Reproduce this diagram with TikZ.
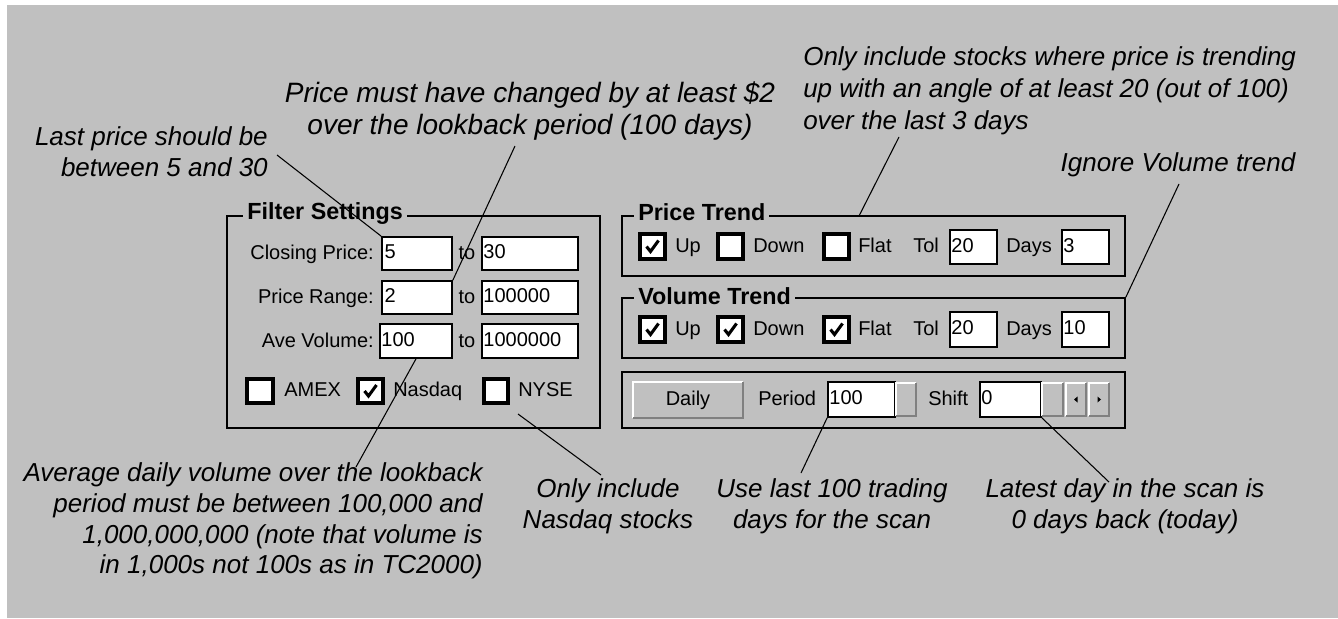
\documentclass[tikz,border=0pt]{standalone}
\usepackage{fontspec}
\setmainfont{Liberation Sans}
\usetikzlibrary{fit,calc}
\definecolor{bg}{HTML}{C0C0C0}
\definecolor{dkg}{HTML}{808080}
\newcommand\chkmark[1]{\draw[chk] ($(#1.center)+(-6,0)$) -- ($(#1.center)+(-2,5)$) -- ($(#1.center)+(6,-6)$);}
\newcommand\bevel[3]{%
  \node[fill=bg, inner sep=0pt, fit={#2 #3}] (#1) {};
  \draw[white, line width=1.3pt] (#1.south west) -- (#1.north west) -- (#1.north east);
  \draw[dkg, line width=1.3pt] (#1.north east) -- (#1.south east) -- (#1.south west);}
\begin{document}
\begin{tikzpicture}[x=0.75pt,y=-0.75pt,
  ann/.style={font=\fontsize{19.5}{23}\selectfont\itshape, inner sep=0pt},
  ui/.style={font=\fontsize{15}{18}\selectfont, inner sep=0pt, text height=11pt, text depth=3pt},
  ttl/.style={font=\fontsize{17.5}{20}\selectfont\bfseries, fill=bg, inner xsep=3pt, inner ysep=0pt},
  grp/.style={draw=black, line width=1.3pt, inner sep=0pt},
  tbox/.style={draw=black, fill=white, line width=1.3pt, inner sep=0pt},
  cbox/.style={draw=black, fill=white, line width=2.6pt, inner sep=0pt},
  leader/.style={draw=black, line width=0.8pt},
  chk/.style={line width=2.3pt, line join=miter}]
\fill[white] (0,0) rectangle (1338,618);
\fill[bg] (7,5) rectangle (1338,618);
\useasboundingbox (0,0) rectangle (1338,618);

% Filter settings
\node[grp, fit={(227,216) (600,428)}] (fs) {};
\node[ttl, anchor=west] (fst) at (243,214) {Filter Settings};
\node[ui, anchor=east] (lcp) at (374,254) {Closing Price:};
\node[tbox, fit={(382,237) (452,270)}] (cp1) {};
\node[ui, anchor=west] at ([xshift=2.5pt]cp1.west) {5};
\node[ui] (to1) at (467,254) {to};
\node[tbox, fit={(482,237) (578,270)}] (cp2) {};
\node[ui, anchor=west] at ([xshift=1.5pt]cp2.west) {30};

\node[ui, anchor=east] (lpr) at (374,298) {Price Range:};
\node[tbox, fit={(382,281) (452,314)}] (pr1) {};
\node[ui, anchor=west] at ([xshift=2.5pt]pr1.west) {2};
\node[ui] (to2) at (467,298) {to};
\node[tbox, fit={(482,281) (578,314)}] (pr2) {};
\node[ui, anchor=west] at ([xshift=1.5pt]pr2.west) {100000};

\node[ui, anchor=east] (lav) at (374,342) {Ave Volume:};
\node[tbox, fit={(380,324) (452,358)}] (av1) {};
\node[ui, anchor=west] at ([xshift=1.5pt]av1.west) {100};
\node[ui] (to3) at (467,342) {to};
\node[tbox, fit={(482,324) (578,358)}] (av2) {};
\node[ui, anchor=west] at ([xshift=1.5pt]av2.west) {1000000};

\node[cbox, fit={(247,379) (273,403)}] (amex) {};
\node[ui, anchor=west] (lamex) at (284,391) {AMEX};
\node[cbox, fit={(358,379) (383,403)}] (nasdaq) {};
\chkmark{nasdaq}
\node[ui, anchor=west] (lnasdaq) at (393,391) {Nasdaq};
\node[cbox, fit={(484,379) (508,403)}] (nyse) {};
\node[ui, anchor=west] (lnyse) at (518,391) {NYSE};

% Price trend
\node[grp, fit={(622,216) (1125,276)}] (pt) {};
\node[ttl, anchor=west] at (634,212) {Price Trend};
\node[cbox, fit={(640,234) (665,259)}] (ptup) {}; \chkmark{ptup}
\node[ui, anchor=west] at (675,247) {Up};
\node[cbox, fit={(718,234) (743,259)}] (ptdown) {};
\node[ui, anchor=west] at (753,247) {Down};
\node[cbox, fit={(824,234) (849,259)}] (ptflat) {};
\node[ui, anchor=west] at (858,247) {Flat};
\node[ui, anchor=west] at (913,247) {Tol};
\node[tbox, fit={(950,230) (997,264)}] (pttol) {};
\node[ui, anchor=west] at ([xshift=1.5pt]pttol.west) {20};
\node[ui, anchor=west] at (1006,247) {Days};
\node[tbox, fit={(1062,230) (1109,264)}] (ptdays) {};
\node[ui, anchor=west] at ([xshift=1.5pt]ptdays.west) {3};

% Volume trend
\node[grp, fit={(622,298) (1125,358)}] (vt) {};
\node[ttl, anchor=west] at (634,296) {Volume Trend};
\node[cbox, fit={(640,317) (665,342)}] (vtup) {}; \chkmark{vtup}
\node[ui, anchor=west] at (675,330) {Up};
\node[cbox, fit={(718,317) (743,342)}] (vtdown) {}; \chkmark{vtdown}
\node[ui, anchor=west] at (753,330) {Down};
\node[cbox, fit={(824,317) (849,342)}] (vtflat) {}; \chkmark{vtflat}
\node[ui, anchor=west] at (858,330) {Flat};
\node[ui, anchor=west] at (913,330) {Tol};
\node[tbox, fit={(950,312) (997,347)}] (vttol) {};
\node[ui, anchor=west] at ([xshift=1.5pt]vttol.west) {20};
\node[ui, anchor=west] at (1006,330) {Days};
\node[tbox, fit={(1062,312) (1109,347)}] (vtdays) {};
\node[ui, anchor=west] at ([xshift=1.5pt]vtdays.west) {10};

% Period box
\node[grp, fit={(622,372) (1125,428)}] (pb) {};
\bevel{daily}{(633,382)}{(743,418)}
\node[ui] at (daily.center) {Daily};
\node[ui, anchor=west] at (758,400) {Period};
\node[tbox, fit={(828,382) (895,417)}] (per) {};
\node[ui, anchor=west] at ([xshift=1.5pt]per.west) {100};
\bevel{perspin}{(896,383)}{(916,416)}
\node[ui, anchor=west] at (928,400) {Shift};
\node[tbox, fit={(980,382) (1041,417)}] (shift) {};
\node[ui, anchor=west] at ([xshift=1.5pt]shift.west) {0};
\bevel{sp1}{(1042,383)}{(1063,416)}
\bevel{sp2}{(1066,383)}{(1086,416)}
\bevel{sp3}{(1089,383)}{(1109,416)}
\fill ($(sp2.center)+(-2,0)$) -- ($(sp2.center)+(1.5,-3)$) -- ($(sp2.center)+(1.5,3)$) -- cycle;
\fill ($(sp3.center)+(2,0)$) -- ($(sp3.center)+(-1.5,-3)$) -- ($(sp3.center)+(-1.5,3)$) -- cycle;

% Annotations
\node[ann, align=right, anchor=east] (a1) at (268,152) {Last price should be\\between 5 and 30};
\node[ann, align=center, font=\fontsize{21}{23.5}\selectfont\itshape] (a2) at (530,111) {Price must have changed by at least \$2\\over the lookback period (100 days)};
\node[ann, align=left, anchor=west, font=\fontsize{19.5}{24}\selectfont\itshape] (a3) at (803,91) {Only include stocks where price is trending\\up with an angle of at least 20 (out of 100)\\over the last 3 days};
\node[ann] (a4) at (1178,165) {Ignore Volume trend};
\node[ann, align=right, anchor=east] (a5) at (483,521) {Average daily volume over the lookback\\period must be between 100,000 and\\1,000,000,000 (note that volume is\\in 1,000s not 100s as in TC2000)};
\node[ann, align=center] (a6) at (608,506) {Only include\\Nasdaq stocks};
\node[ann, align=center] (a7) at (832,506) {Use last 100 trading\\days for the scan};
\node[ann, align=center] (a8) at (1125,506) {Latest day in the scan is\\0 days back (today)};

% Leaders
\coordinate (l1) at (277,155);
\draw[leader] (l1) -- (cp1.north west);
\coordinate (l2) at (515,146);
\draw[leader] (l2) -- (pr1.north east);
\coordinate (l3) at (899,137);
\coordinate (l3e) at (859,216);
\draw[leader] (l3) -- (l3e);
\coordinate (l4) at (1179,184);
\draw[leader] (l4) -- (vt.north east);
\coordinate (l5) at (356,467);
\draw[leader] (l5) -- (av1.south);
\coordinate (l6) at (601,475);
\coordinate (l6e) at (518,414);
\draw[leader] (l6) -- (l6e);
\coordinate (l7) at (801,473);
\draw[leader] (l7) -- (per.south west);
\coordinate (l8) at (1109,482);
\draw[leader] (l8) -- (shift.south east);
\end{tikzpicture}
\end{document}
